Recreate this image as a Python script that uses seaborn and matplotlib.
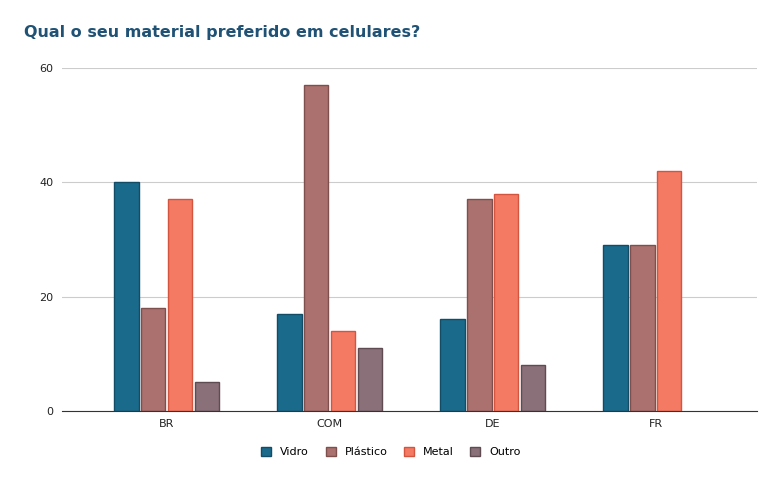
import matplotlib
matplotlib.use("Agg")
import matplotlib.pyplot as plt
import seaborn as sns
import pandas as pd

regions = ["BR", "COM", "DE", "FR"]
materials = ["Vidro", "Plástico", "Metal", "Outro"]
vidro = [40, 17, 16, 29]
plastico = [18, 57, 37, 29]
metal = [37, 14, 38, 42]
outro = [5, 11, 8, 0]

colors = ["#1a6a8c", "#ab716e", "#f47a64", "#8a7078"]
edges = ["#124c66", "#7e4f4c", "#d4553f", "#5f4b52"]

rows = []
for m, vals in zip(materials, [vidro, plastico, metal, outro]):
    for r, v in zip(regions, vals):
        rows.append({"region": r, "material": m, "value": v})
df = pd.DataFrame(rows)

fig = plt.figure(figsize=(7.82, 4.84), dpi=100)
ax = fig.add_axes([0.079, 0.151, 0.889, 0.709])
sns.barplot(data=df, x="region", y="value", hue="material", hue_order=materials,
            palette=colors, saturation=1, width=0.66, gap=0.1, ax=ax, legend=False)
for i, cont in enumerate(ax.containers):
    for b in cont:
        b.set_edgecolor(edges[i])
        b.set_linewidth(1 if b.get_height() > 0 else 0)

ax.set_xlim(-0.644, 3.62)
ax.set_ylim(0, 60)
ax.set_yticks([0, 20, 40, 60])
ax.yaxis.grid(True, color="#cccccc", linewidth=0.8)
ax.set_axisbelow(True)
for s in ["top", "right", "left"]:
    ax.spines[s].set_visible(False)
ax.spines["bottom"].set_color("#333333")
ax.tick_params(axis="both", length=0, labelsize=8, colors="#222222", pad=6)
ax.set_xlabel("")
ax.set_ylabel("")

fig.text(0.031, 0.932, "Qual o seu material preferido em celulares?", fontsize=11.5,
         fontweight="bold", color="#1f5275", va="center")

handles = [plt.Rectangle((0, 0), 1, 1, facecolor=c, edgecolor=e) for c, e in zip(colors, edges)]
fig.legend(handles, materials, loc="center", bbox_to_anchor=(0.5, 0.066), ncol=4,
           frameon=False, fontsize=8, handlelength=0.9, handleheight=0.9, columnspacing=1.5)

fig.savefig("out.png", dpi=100)
